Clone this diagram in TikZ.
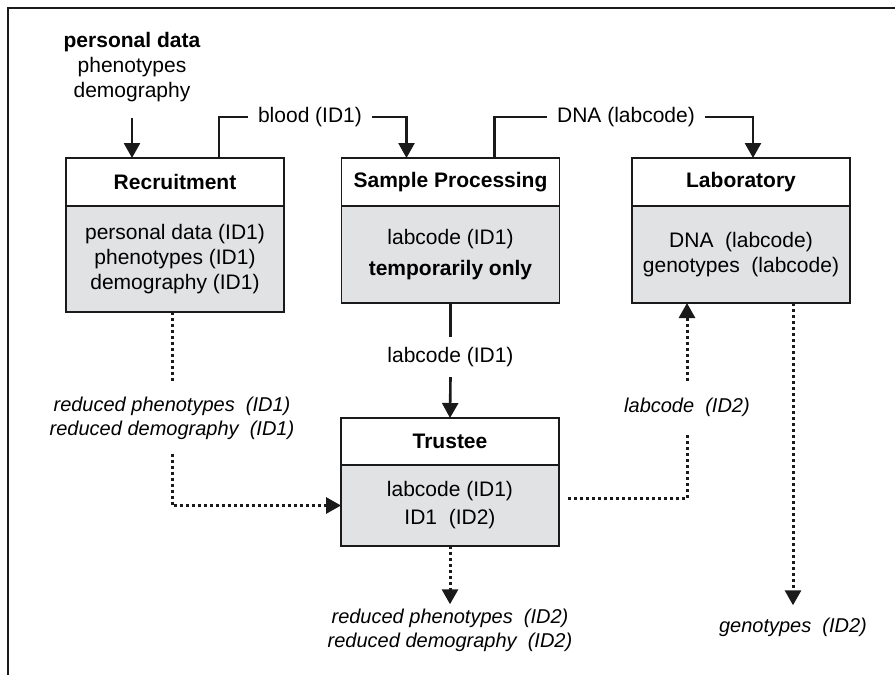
\documentclass[tikz,border=0pt]{standalone}
\usepackage{fontspec}
\setmainfont{Liberation Sans}
\usepackage{xcolor}
\usetikzlibrary{positioning, arrows.meta}
\definecolor{bodygray}{HTML}{E1E2E4}
\definecolor{inkblack}{HTML}{1A1A1A}

\begin{document}
\begin{tikzpicture}[x=0.5pt, y=-0.5pt,
    font=\fontsize{10.5}{12.5}\selectfont,
    head/.style={draw=inkblack, line width=0.8pt, fill=white, minimum width=109pt,
                 minimum height=24pt, outer sep=0pt, font=\fontsize{10.5}{12.5}\selectfont\bfseries},
    body/.style={draw=inkblack, line width=0.8pt, fill=bodygray, minimum width=109pt,
                 outer sep=0pt, align=center},
    flow/.style={line width=1.3pt, inkblack},
    arr/.style={flow, -{Triangle[width=8pt,length=7.5pt]}},
    dots/.style={flow, line width=1.5pt, dash pattern=on 1.5pt off 1.5pt},
    dotarr/.style={dots, -{Triangle[width=8pt,length=7.5pt]}},
    lbl/.style={inner xsep=5pt, align=center}]
  \useasboundingbox (0,0) rectangle (895,675);
  \draw[line width=0.8pt, inkblack] (895,8) -- (8,8) -- (8,675);

  % the four stations
  \node[head] (recr) at (175,182) {Recruitment};
  \node[body, minimum height=53pt, below=0pt of recr] (recrbody)
    {personal data (ID1)\\phenotypes (ID1)\\demography (ID1)};
  \node[head] (samp) at (450.5,182) {Sample Processing};
  \node[body, minimum height=48.5pt, below=0pt of samp] (sampbody)
    {labcode (ID1)\\[3pt]\textbf{temporarily only}};
  \node[head] (lab) at (741,182) {Laboratory};
  \node[body, minimum height=48.5pt, below=0pt of lab] (labbody)
    {DNA\ \ (labcode)\\genotypes\ \ (labcode)};
  \node[head, minimum height=23.5pt] (trus) at (450,441.5) {Trustee};
  \node[body, minimum height=40.5pt, below=0pt of trus] (trusbody)
    {labcode (ID1)\\[1.5pt]ID1\ \ (ID2)};

  % labels on the flows
  \node[lbl] (input) at (132,67) {\textbf{personal data}\\phenotypes\\demography};
  \node[lbl] (blood) at (310,117) {blood (ID1)};
  \node[lbl] (dna) at (626,117) {DNA (labcode)};
  \node[lbl, inner ysep=5pt] (lcone) at (450.5,357) {labcode (ID1)};
  \node[lbl, font=\itshape, inner ysep=7pt] (redone) at (172,418)
    {reduced phenotypes\ \ (ID1)\\reduced demography\ \ (ID1)};
  \node[lbl, font=\itshape, inner ysep=8pt] (lctwo) at (687,407) {labcode\ \ (ID2)};
  \node[lbl, font=\itshape, inner ysep=2pt] (redtwo) at (450,630)
    {reduced phenotypes\ \ (ID2)\\reduced demography\ \ (ID2)};
  \node[lbl, font=\itshape, inner ysep=6pt] (geno) at (793,627) {genotypes\ \ (ID2)};

  % solid flows
  \draw[arr] ([yshift=-4.5pt]input.south) -- (input.south |- recr.north);
  \draw[flow] ([xshift=22pt]recr.north) |- (blood.west);
  \draw[arr] (blood.east) -| ([xshift=-22pt]samp.north);
  \draw[flow] ([xshift=22pt]samp.north) |- (dna.west);
  \draw[arr] (dna.east) -| ([xshift=6pt]lab.north);
  \draw[flow] (sampbody.south) -- (lcone.north);
  \draw[arr] (lcone.south) -- (trus.north);

  % dotted flows
  \draw[dots] (redone.north |- recrbody.south) -- (redone.north);
  \draw[dotarr] (redone.south) |- (trusbody.west);
  \draw[dots] ([shift={(4.5pt,3.5pt)}]trusbody.east) -| (lctwo.south);
  \draw[dotarr] (lctwo.north) -- (lctwo.north |- labbody.south);
  \draw[dotarr] (trusbody.south) -- (redtwo.north);
  \draw[dotarr] (geno.north |- labbody.south) -- (geno.north);
\end{tikzpicture}
\end{document}
